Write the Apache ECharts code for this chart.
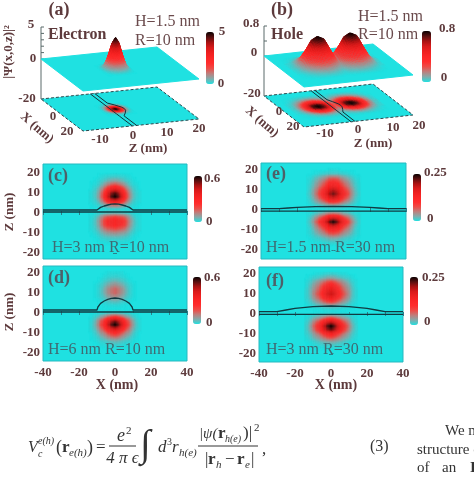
<!DOCTYPE html>
<html><head><meta charset="utf-8">
<style>html,body{margin:0;padding:0;background:#fff}#c{width:474px;height:480px}</style>
<script src="https://cdn.jsdelivr.net/npm/echarts@6/dist/echarts.min.js"></script>
</head><body><div id="c"></div>
<script>
// ---------- shared tick labels ----------
const xTicks = [-40,-30,-20,-10,0,10,20,30,40];
const xTickLabels = [-40,-20,0,20,40];
const zTicks = [-20,-10,0,10,20];
// ---------- cross-section cell centres (half plane in X, mirrored) ----------
const cellX = [0,2,4,6,8,10,12,14];
const cellZ = [20,18,16,14,12,10,8,6,4,2,0,-2,-4,-6,-8,-10,-12,-14,-16,-18];
// ---------- cross sections: percent of colour-bar maximum ----------
const densC = [
[0,0,0,0,0,0,0,0],[4,4,3,2,1,0,0,0],[12,11,8,5,3,1,0,0],[30,27,20,12,6,2,1,0],[60,55,40,25,13,5,2,0],
[90,82,60,37,19,7,3,1],[100,91,67,41,21,8,3,1],[68,62,46,28,14,5,2,1],[25,23,17,10,5,2,1,0],[3,3,2,1,1,0,0,0],
[5,5,4,3,2,1,0,0],[34,32,29,23,14,6,2,1],[48,46,41,33,19,9,3,1],[46,44,39,31,18,8,3,1],[31,29,26,21,12,6,2,1],
[17,16,14,11,7,3,1,0],[7,7,6,5,3,1,0,0],[2,2,2,1,1,0,0,0],[0,0,0,0,0,0,0,0],[0,0,0,0,0,0,0,0]];
const densD = [
[1,1,1,0,0,0,0,0],[3,3,2,1,0,0,0,0],[8,7,5,3,1,0,0,0],[16,14,10,6,3,1,0,0],[25,22,16,9,4,1,0,0],
[25,22,16,9,4,1,0,0],[17,15,11,6,3,1,0,0],[8,7,5,3,1,0,0,0],[2,2,1,1,0,0,0,0],[0,0,0,0,0,0,0,0],
[3,3,2,1,1,0,0,0],[38,34,26,17,11,5,2,0],[85,76,58,38,26,12,4,1],[100,90,68,45,30,14,5,1],[72,65,49,33,22,10,4,1],
[42,38,29,19,14,6,2,0],[24,22,16,11,7,3,1,0],[9,8,6,4,3,1,0,0],[3,3,2,1,1,0,0,0],[0,0,0,0,0,0,0,0]];
const densE = [
[1,1,0,0,0,0,0,0],[5,5,4,3,2,1,0,0],[26,24,18,13,9,6,2,1],[42,38,29,21,15,9,4,1],[55,50,39,28,20,12,5,2],
[75,68,53,38,27,17,7,2],[88,79,62,44,32,19,8,3],[70,63,49,35,25,15,6,2],[40,36,28,20,14,9,4,1],[8,7,6,4,3,2,1,0],
[1,1,1,0,0,0,0,0],[25,22,18,12,9,5,2,1],[70,63,49,35,25,15,6,2],[100,90,70,50,36,22,9,3],[72,65,50,36,26,16,6,2],
[48,43,34,24,17,11,4,1],[30,27,21,15,11,7,3,1],[12,11,8,6,4,3,1,0],[4,4,3,2,1,1,0,0],[0,0,0,0,0,0,0,0]];
const densF = [
[3,3,2,1,1,0,0,0],[12,11,8,6,4,3,1,0],[33,30,23,17,12,7,3,1],[50,45,35,25,18,11,5,1],[62,56,43,31,22,14,6,2],
[72,65,50,36,26,16,6,2],[58,52,41,29,21,13,5,2],[34,31,24,17,12,7,3,1],[10,9,7,5,4,2,1,0],[1,1,1,0,0,0,0,0],
[2,2,1,1,1,0,0,0],[32,29,22,16,12,7,3,1],[72,65,50,36,26,16,6,2],[100,90,70,50,36,22,9,3],[88,79,62,44,32,19,8,3],
[52,47,36,26,19,11,5,2],[30,27,21,15,11,7,3,1],[11,10,8,6,4,2,1,0],[3,3,2,2,1,1,0,0],[0,0,0,0,0,0,0,0]];
// ---------- structure outlines in the cross sections: X, top surface, bottom surface ----------
const domeXc = [-40,-10,-9,-8,-6,-4,-2,0,2,4,6,8,9,10,40];
const domeZc = [1.5,1.5,2.3,2.8,3.5,4,4.4,4.5,4.4,4,3.5,2.8,2.3,1.5,1.5];
const domeXd = [-40,-10,-9.5,-9,-8,-6,-4,-2,0,2,4,6,8,9,9.5,10,40];
const domeZd = [1.5,1.5,3,3.8,4.8,6,6.8,7.3,7.5,7.3,6.8,6,4.8,3.8,3,1.5,1.5];
const domeXe = [-40,-30,-25,-20,-10,0,10,20,25,30,40];
const domeZe = [0.7,0.7,1,1.3,1.7,1.8,1.7,1.3,1,0.7,0.7];
const domeXf = [-40,-30,-25,-20,-10,0,10,20,25,30,40];
const domeZf = [1.2,1.2,2,2.8,3.7,4,3.7,2.8,2,1.2,1.2];
const baseXline = [-40,40];
const baseZc = [0.5,0.5], baseZd = [0.5,0.5], baseZe = [-0.6,-0.6], baseZf = [-0.2,-0.2];
// ---------- 3D panel (a): electron density, columns Z, rows |X| ----------
const elecZ = [-6.5,-5.5,-4.5,-3.5,-2.5,-1.5,-0.5,0.5,1.5,2.5,3.5];
const elecX = [0,1,2,3,4,5,6,7];
const elecPsi = [
[0,.3,1.0,2.5,4.25,5,4.25,2.5,1.0,.3,0],
[0,.28,.93,2.3,3.95,4.65,3.95,2.3,.93,.28,0],
[0,.22,.75,1.9,3.2,3.75,3.2,1.9,.75,.22,0],
[0,.15,.5,1.25,2.1,2.5,2.1,1.25,.5,.15,0],
[0,.08,.28,.7,1.2,1.4,1.2,.7,.28,.08,0],
[0,.04,.13,.33,.55,.65,.55,.33,.13,.04,0],
[0,.01,.05,.13,.21,.25,.21,.13,.05,.01,0],
[0,0,0,0,0,0,0,0,0,0,0]];
// ---------- 3D panel (b): hole density ----------
const holeZ = [-17,-15,-13,-11,-9,-7,-5,-3,-1,1,3,5,7,9,11,13,15];
const holeX = [0,2,4,6,8,10,12,14];
const holePsi = [
[.02,.06,.2,.46,.73,.8,.73,.46,.2,.46,.73,.8,.73,.46,.2,.06,.02],
[.01,.05,.18,.42,.68,.76,.68,.42,.18,.42,.68,.76,.68,.42,.18,.05,.01],
[.01,.04,.14,.32,.51,.58,.51,.32,.14,.32,.51,.58,.51,.32,.14,.04,.01],
[.01,.03,.09,.2,.33,.38,.33,.2,.09,.2,.33,.38,.33,.2,.09,.03,.01],
[0,.01,.05,.1,.17,.2,.17,.1,.05,.1,.17,.2,.17,.1,.05,.01,0],
[0,.01,.02,.05,.07,.09,.07,.05,.02,.05,.07,.09,.07,.05,.02,.01,0],
[0,0,.01,.02,.03,.03,.03,.02,.01,.02,.03,.03,.03,.02,.01,0,0],
[0,0,0,0,0,0,0,0,0,0,0,0,0,0,0,0,0]];
// ---------- outlines on the 3D floors ----------
const floorLineX = [-20,-8,-5,-2,0,2,5,8,20];
const floorEdgeAZ = [-1.5,-1.5,0,1.2,1.5,1.2,0,-1.5,-1.5];
const floorBaseAZ = [-3,-3,-3,-3,-3,-3,-3,-3,-3];
const floorEdgeBZ = [-1.3,-1.3,-0.3,0.6,0.8,0.6,-0.3,-1.3,-1.3];
const floorBaseBZ = [-2.7,-2.7,-2.7,-2.7,-2.7,-2.7,-2.7,-2.7,-2.7];
const psiTicksA = [0,1,2,3,4,5];
const psiTicksB = [0,0.4,0.8];

const CYAN = '#1fe1e1', SERIF = '"Liberation Serif"', MAROON = '#5d3a3c', INK = '#4d6068';
const palette = [CYAN,'#84abab','#bd7f7d','#ee4c47','#ff2d2d','#fb2626','#ee2020','#d81a1a','#a81212','#581010','#0a0000'];
const SUB = 4; // pm3d-style shading: each cell is painted in sub-steps between its corner values
const shade = (v,peak)=>echarts.color.lerp(Math.max(0,Math.min(1,v/peak)),palette);

const grids=[], xAxes=[], yAxes=[], series=[], vms=[], gfx=[];
function T(x,y,text,o){o=o||{};
  gfx.push({type:'text',x,y,rotation:o.rot||0,silent:true,z:50,style:{text,
    font:(o.italic?'italic ':'')+(o.bold?'bold ':'')+(o.size||13)+'px '+SERIF,
    fill:o.color||MAROON,align:o.align||'center',verticalAlign:'middle',textAlign:o.align||'center',textVerticalAlign:'middle'}});
}
function L(x1,x2,y,c){gfx.push({type:'line',silent:true,z:50,shape:{x1,y1:y,x2,y2:y},style:{stroke:c||'#333',lineWidth:1}});}

// ---------- cross-section panels ----------
function section(p){
  const gi=grids.length;
  grids.push({left:p.left,top:p.top,width:p.w,height:p.h,show:true,backgroundColor:CYAN,borderColor:'#27b9c0',borderWidth:1});
  const lab={color:MAROON,fontFamily:SERIF,fontWeight:'bold',fontSize:13};
  const tick={show:true,inside:true,length:2,lineStyle:{color:'#2a7f8a',width:1}};
  xAxes.push({type:'value',gridIndex:gi,min:-40,max:40,axisLine:{show:false},splitLine:{show:false},
    axisTick:{...tick,customValues:xTicks},
    axisLabel:{show:p.xlabels,margin:5,customValues:xTickLabels,...lab,formatter:v=>String(v)}});
  xAxes.push({type:'value',gridIndex:gi,position:'top',min:-40,max:40,axisLine:{show:false},splitLine:{show:false},
    axisTick:{...tick,customValues:xTicks},axisLabel:{show:false}});
  yAxes.push({type:'value',gridIndex:gi,min:p.zmin,max:p.zmax,axisLine:{show:false},splitLine:{show:false},
    axisTick:{...tick,customValues:zTicks},
    axisLabel:{margin:3,customValues:zTicks,...lab,formatter:v=>String(v)}});
  yAxes.push({type:'value',gridIndex:gi,position:'right',min:p.zmin,max:p.zmax,axisLine:{show:false},splitLine:{show:false},
    axisTick:{...tick,customValues:zTicks},axisLabel:{show:false}});
  const xi=xAxes.length-2, yi=yAxes.length-2, data=[];
  cellZ.forEach((z,r)=>cellX.forEach((x,c)=>{
    const v=p.dens[r][c]/100*p.peak;
    data.push([x,z,v]); if(x!==0) data.push([-x,z,v]);
  }));
  const at=(x,z)=>{ // table lookup, blank outside the table
    const c=Math.abs(x)/2, r=(20-z)/2;
    return (p.dens[r]&&p.dens[r][c]!==undefined)?p.dens[r][c]/100*p.peak:0;};
  vms.push({type:'continuous',min:0,max:p.peak,seriesIndex:[series.length],dimension:2,inRange:{color:palette},
    left:p.barL,top:p.barT,itemWidth:p.barW,itemHeight:p.barH,calculable:false,hoverLink:false,padding:0,text:null});
  series.push({type:'custom',xAxisIndex:xi,yAxisIndex:yi,data,encode:{x:0,y:1},silent:true,clip:true,
    renderItem(params,api){
      const x=api.value(0), z=api.value(1), kids=[];
      for(let i=0;i<SUB;i++)for(let j=0;j<SUB;j++){
        const x0=x-1+2*i/SUB, x1=x0+2/SUB, z1=z+1-2*j/SUB, z0=z1-2/SUB;
        const xm=(x0+x1)/2, zm=(z0+z1)/2;
        const xa=Math.floor(xm/2)*2, za=Math.floor(zm/2)*2, u=(xm-xa)/2, w=(zm-za)/2;
        const v=at(xa,za)*(1-u)*(1-w)+at(xa+2,za)*u*(1-w)+at(xa,za+2)*(1-u)*w+at(xa+2,za+2)*u*w;
        if(v<=0) continue;
        const a=api.coord([x0,z1]), b=api.coord([x1,z0]), col=shade(v,p.peak);
        kids.push({type:'rect',shape:{x:a[0],y:a[1],width:b[0]-a[0],height:b[1]-a[1]},style:{fill:col,stroke:col,lineWidth:.4}});
      }
      return {type:'group',children:kids};
    }});
  const ln=(xs,zs)=>series.push({type:'line',xAxisIndex:xi,yAxisIndex:yi,data:xs.map((x,i)=>[x,zs[i]]),showSymbol:false,silent:true,
    smooth:false,lineStyle:{color:'#103b42',width:1.3},z:5});
  ln(baseXline,p.baseZ); ln(p.domeX,p.domeZ);
}
section({left:43,top:164,w:144,h:95,zmin:-23,zmax:24.5,xlabels:false,dens:densC,peak:.6,domeX:domeXc,domeZ:domeZc,baseZ:baseZc,barL:194,barT:176,barW:8,barH:46});
section({left:43,top:266,w:144,h:95,zmin:-24,zmax:23.5,xlabels:true,dens:densD,peak:.6,domeX:domeXd,domeZ:domeZd,baseZ:baseZd,barL:193,barT:277,barW:8,barH:47});
section({left:261,top:163,w:145,h:96,zmin:-24.5,zmax:23.5,xlabels:false,dens:densE,peak:.25,domeX:domeXe,domeZ:domeZe,baseZ:baseZe,barL:413,barT:174,barW:8,barH:47});
section({left:259,top:267,w:144,h:95,zmin:-24,zmax:23.5,xlabels:true,dens:densF,peak:.25,domeX:domeXf,domeZ:domeZf,baseZ:baseZf,barL:410,barT:277,barW:8,barH:48});

// ---------- 3D panels: oblique view of a Z-X grid ----------
function oblique(p){
  const gi=grids.length;
  grids.push({left:p.left,top:p.top,width:p.w,height:p.h,show:false});
  xAxes.push({type:'value',gridIndex:gi,min:-20,max:20,show:false});
  yAxes.push({type:'value',gridIndex:gi,min:-20,max:20,inverse:true,show:false});
  const xi=xAxes.length-1, yi=yAxes.length-1;
  const proj=(api,z,x,lift)=>{const c=api.coord([z,x]);
    return [c[0]+(c[1]-p.top)*p.kx, c[1]+(c[0]-p.left)*p.ky-lift];};
  const base={type:'custom',xAxisIndex:xi,yAxisIndex:yi,silent:true,clip:false};
  const planeSeries=(lift,edge)=>series.push({...base,data:[[-20,-20]],encode:{x:0,y:1},renderItem(_,api){
    const pts=[[-20,-20],[20,-20],[20,20],[-20,20]].map(q=>proj(api,q[0],q[1],lift));
    return {type:'polygon',shape:{points:pts},style:{fill:CYAN,stroke:edge,lineWidth:1,lineDash:lift?null:[3,2]}};
  }});
  // rows running from back to front, cells carrying their four corner heights
  const rows=[...p.xs].reverse().map((d,i)=>({x:p.cx-d,h:p.psi[p.xs.length-1-i]}));
  p.xs.slice(1).forEach((d,i)=>rows.push({x:p.cx+d,h:p.psi[i+1]}));
  const cells=[];
  for(let r=0;r<rows.length-1;r++) for(let c=0;c<p.zs.length-1;c++){
    const h=[rows[r].h[c],rows[r].h[c+1],rows[r+1].h[c+1],rows[r+1].h[c]];
    cells.push([p.zs[c],rows[r].x,(h[0]+h[1]+h[2]+h[3])/4,p.zs[c+1],rows[r+1].x,h[0],h[1],h[2],h[3]]);
  }
  const surf=(lift,scale)=>series.push({...base,data:cells,encode:{x:0,y:1},renderItem(_,api){
    const v=i=>api.value(i), z0=v(0),x0=v(1),z1=v(3),x1=v(4),h=[v(5),v(6),v(7),v(8)], kids=[];
    if(h[0]+h[1]+h[2]+h[3]<=0) return {type:'group',children:[]};
    const hAt=(s,t)=>h[0]*(1-s)*(1-t)+h[1]*s*(1-t)+h[2]*s*t+h[3]*(1-s)*t;
    const P=(s,t)=>proj(api,z0+(z1-z0)*s,x0+(x1-x0)*t,lift+hAt(s,t)*scale);
    for(let j=0;j<SUB;j++)for(let i=0;i<SUB;i++){
      const s0=i/SUB,s1=(i+1)/SUB,t0=j/SUB,t1=(j+1)/SUB, col=shade(hAt((s0+s1)/2,(t0+t1)/2),p.peak);
      kids.push({type:'polygon',shape:{points:[P(s0,t0),P(s1,t0),P(s1,t1),P(s0,t1)]},style:{fill:col,stroke:col,lineWidth:.4}});
    }
    return {type:'group',children:kids};
  }});
  const floorLine=(zs)=>series.push({...base,data:[[0,0]],encode:{x:0,y:1},renderItem(_,api){
    const pts=floorLineX.map((x,i)=>proj(api,zs[i],x,0));
    return {type:'polyline',shape:{points:pts},style:{fill:null,stroke:'#12323a',lineWidth:1}};
  }});
  planeSeries(0,'#2a4a50');
  const idx=[series.length];
  surf(0,0);
  floorLine(p.edgeZ); floorLine(p.baseZ);
  // vertical axis
  series.push({...base,data:[[0,0]],encode:{x:0,y:1},renderItem(_,api){
    const kids=[{type:'line',shape:{x1:proj(api,-20,-20,0)[0],y1:proj(api,-20,-20,0)[1],x2:proj(api,-20,-20,p.lift+p.top3)[0],y2:proj(api,-20,-20,p.lift+p.top3)[1]},style:{stroke:'#5a6a6a',lineWidth:1}}];
    p.ticks.forEach(t=>{const q=proj(api,-20,-20,p.lift+t*p.scale);
      kids.push({type:'line',shape:{x1:q[0],y1:q[1],x2:q[0]+3,y2:q[1]},style:{stroke:'#5a6a6a',lineWidth:1}});});
    return {type:'group',children:kids};
  }});
  planeSeries(p.lift,CYAN);
  idx.push(series.length);
  surf(p.lift,p.scale);
  vms.push({type:'continuous',min:0,max:p.peak,seriesIndex:idx,dimension:2,inRange:{color:palette},
    left:p.barL,top:p.barT,itemWidth:p.barW,itemHeight:p.barH,calculable:false,hoverLink:false,padding:0,text:null});
}
oblique({left:41,top:99,w:116,h:32,kx:42/32,ky:-12/116,lift:40,scale:6.4,top3:32,peak:5,cx:0,zs:elecZ,xs:elecX,psi:elecPsi,
  edgeZ:floorEdgeAZ,baseZ:floorBaseAZ,ticks:psiTicksA,barL:206,barT:32,barW:8,barH:52});
oblique({left:264,top:96,w:109,h:31,kx:40/31,ky:-12/109,lift:40,scale:37.5,top3:30,peak:.8,cx:-1,zs:holeZ,xs:holeX,psi:holePsi,
  edgeZ:floorEdgeBZ,baseZ:floorBaseBZ,ticks:psiTicksB,barL:422,barT:31,barW:9,barH:51});

// ---------- text ----------
const big={size:16,color:'#6a4a4c',align:'left'};
T(59,10,'(a)',{bold:true,size:18}); T(48,35,'Electron',{bold:true,size:16,align:'left'});
T(135,22,'H=1.5 nm',big); T(135,41,'R=10 nm',big);
T(222,32,'5',{bold:true}); T(221,84,'0',{bold:true});
T(31,25,'5',{bold:true}); T(33,59,'0',{bold:true}); T(27,99,'-20',{bold:true});
T(53,117,'0',{bold:true}); T(67,132,'20',{bold:true});
T(100,140,'-10',{bold:true}); T(133,136,'0',{bold:true}); T(167,133,'10',{bold:true}); T(199,129,'20',{bold:true});
T(148,149,'Z (nm)',{bold:true}); T(37,128,'X (nm)',{bold:true,rot:-0.72});
T(9,52,'|Ψ(x,0,z)|²',{bold:true,rot:Math.PI/2});

T(282,10,'(b)',{bold:true,size:18}); T(271,35,'Hole',{bold:true,size:16,align:'left'});
T(358,17,'H=1.5 nm',big); T(358,35,'R=10 nm',big);
T(447,29,'0.8',{bold:true}); T(444,78,'0',{bold:true});
T(251,24,'0.8',{bold:true}); T(254,53,'0',{bold:true}); T(252,94,'-20',{bold:true});
T(279,112,'0',{bold:true}); T(293,127,'20',{bold:true});
T(325,134,'-10',{bold:true}); T(358,130,'0',{bold:true}); T(393,128,'10',{bold:true}); T(419,126,'20',{bold:true});
T(373,144,'Z (nm)',{bold:true}); T(262,122,'X (nm)',{bold:true,rot:-0.72});

const tag={bold:true,size:18,color:INK}, note={size:16,color:'#3f6a72',align:'left'}, bl={bold:true,align:'left'};
T(58,176,'(c)',tag); T(52,248,'H=3 nm R=10 nm',note); T(204,179,'0.6',bl); T(206,222,'0',bl);
T(10,212,'Z (nm)',{bold:true,rot:Math.PI/2});
T(59,278,'(d)',tag); T(48,350,'H=6 nm R=10 nm',note); T(204,278,'0.6',bl); T(206,323,'0',bl);
T(10,312,'Z (nm)',{bold:true,rot:Math.PI/2}); T(117,385,'X (nm)',{bold:true,size:14});
T(276,174,'(e)',tag); T(266,248,'H=1.5 nm R=30 nm',note); T(424,173,'0.25',bl); T(427,219,'0',bl);
T(275,281,'(f)',tag); T(266,350,'H=3 nm R=30 nm',note); T(422,278,'0.25',bl); T(424,322,'0',bl);
T(336,385,'X (nm)',{bold:true,size:14});

// ---------- equation and running text ----------
const K='#333', f=(s,o)=>({size:s,color:K,align:'left',...o});
T(28,448,'V',f(16,{italic:true})); T(38,441,'e(h)',f(10,{italic:true})); T(38,454,'c',f(10,{italic:true}));
T(56,448,'(',f(18)); T(62,448,'r',f(17,{bold:true})); T(69,453,'e(h)',f(11,{italic:true})); T(87,448,')',f(18)); T(96,448,'=',f(17));
T(117,436,'e',f(18,{italic:true})); T(126,431,'2',f(11)); L(109,136,446,K); T(122.5,459,'4 π ϵ',{size:17,color:K,italic:true});
T(140,446,'∫',f(38)); T(158,448,'d',f(17,{italic:true})); T(167,442,'3',f(10)); T(172,448,'r',f(17,{italic:true})); T(179,453,'h(e)',f(11,{italic:true}));
T(199,434,'|ψ(',f(15,{italic:true})); T(218,434,'r',f(17,{bold:true})); T(225,439,'h(e)',f(10,{italic:true})); T(243,434,')|',f(17)); T(254,428,'2',f(11));
L(198,258,446,K);
T(205,460,'|',f(17)); T(208,460,'r',f(17,{bold:true})); T(216,465,'h',f(11,{italic:true})); T(225,460,'−',f(17)); T(237,460,'r',f(17,{bold:true})); T(245,465,'e',f(11,{italic:true})); T(251,460,'|',f(17));
T(262,450,',',f(17));
T(370,447,'(3)',f(16));
T(445,431,'We m',f(15)); T(417,450,'structure o',f(15)); T(417,468,'of',f(15)); T(442,468,'an',f(15)); T(470,468,'I',f(15,{bold:true}));

const chart=echarts.init(document.getElementById('c'),null,{renderer:'canvas'});
chart.setOption({animation:false,backgroundColor:'#fff',tooltip:{show:false},
  grid:grids,xAxis:xAxes,yAxis:yAxes,visualMap:vms,series,graphic:{elements:gfx}});
</script></body></html>
